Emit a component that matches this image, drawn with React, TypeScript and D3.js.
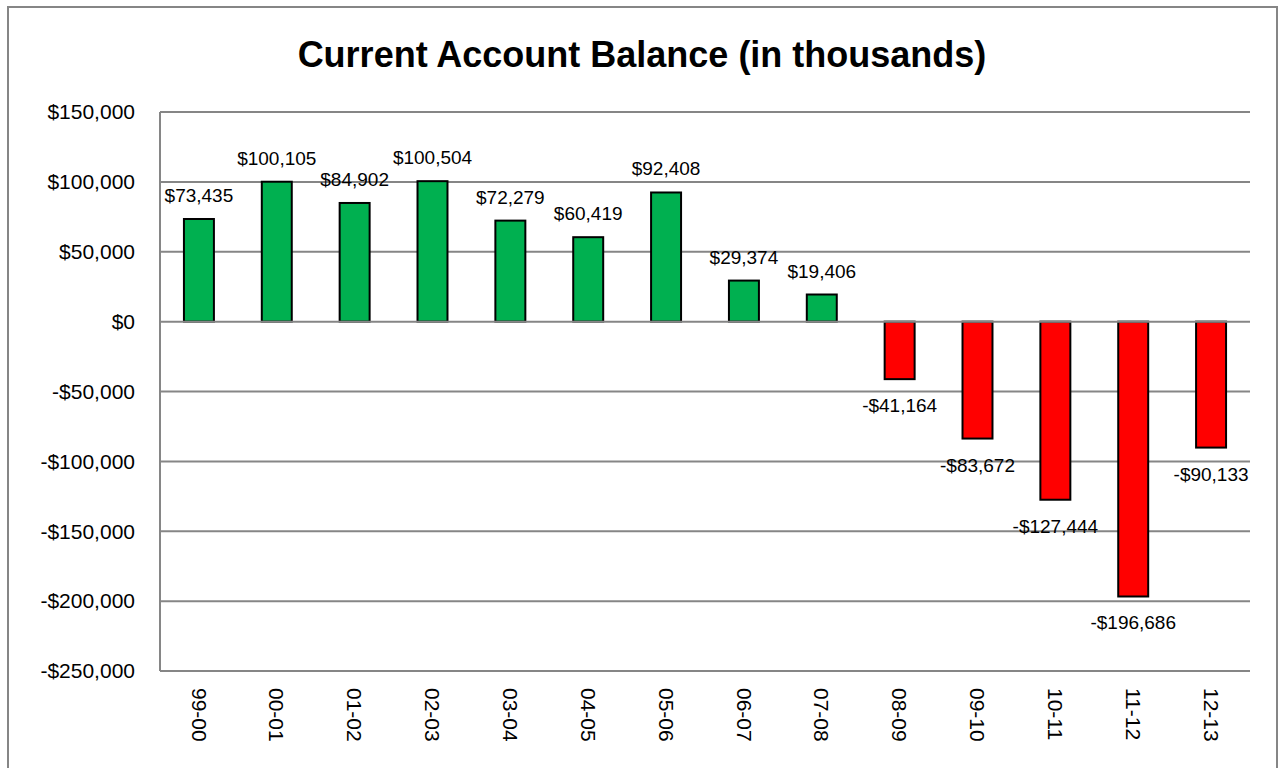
import React, { useEffect, useRef } from 'react'
import * as d3 from 'd3'

// data
const years = ['99-00', '00-01', '01-02', '02-03', '03-04', '04-05', '05-06', '06-07', '07-08', '08-09', '09-10', '10-11', '11-12', '12-13']
const balances = [73435, 100105, 84902, 100504, 72279, 60419, 92408, 29374, 19406, -41164, -83672, -127444, -196686, -90133]
const yTicks = [150000, 100000, 50000, 0, -50000, -100000, -150000, -200000, -250000]

const title = 'Current Account Balance (in thousands)'

const width = 1278
const height = 768
const left = 160
const right = 1250
const top = 112
const bottom = 671
const font = '"Liberation Sans", Arial, sans-serif'

const money = (v: number) => {
    const s = d3.format(',.0f')(Math.abs(v))
    return v < 0 ? '-$' + s : '$' + s
}

const App = () => {
    const svgRef = useRef<SVGSVGElement>(null)

    useEffect(() => {
        const svg = d3.select(svgRef.current)
        svg.selectAll('*').remove()

        const xScale = d3.scaleBand()
            .domain(years)
            .range([left, right])
            .paddingInner(0.615)
            .paddingOuter(0.3075)

        const yScale = d3.scaleLinear()
            .domain([-250000, 150000])
            .range([bottom, top])

        const rows = years.map((y, i) => ({ name: y, value: balances[i] }))

        // chart frame
        svg.append('rect')
            .attr('x', 8).attr('y', 7)
            .attr('width', 1269).attr('height', 770)
            .attr('fill', '#fff')
            .attr('stroke', '#868686')
            .attr('stroke-width', 2)

        // title
        svg.append('text')
            .attr('x', 642).attr('y', 67)
            .attr('text-anchor', 'middle')
            .attr('font-family', font)
            .attr('font-weight', 'bold')
            .attr('font-size', 36)
            .text(title)

        // gridlines
        svg.append('g')
            .selectAll('line')
            .data(yTicks.filter(t => t !== 0))
            .join('line')
            .attr('x1', left).attr('x2', right)
            .attr('y1', d => yScale(d)).attr('y2', d => yScale(d))
            .attr('stroke', '#868686')
            .attr('stroke-width', 2)

        // y axis line
        svg.append('line')
            .attr('x1', left).attr('x2', left)
            .attr('y1', top).attr('y2', bottom)
            .attr('stroke', '#868686')
            .attr('stroke-width', 2)

        // y tick labels
        svg.append('g')
            .selectAll('text')
            .data(yTicks)
            .join('text')
            .attr('x', 135)
            .attr('y', d => yScale(d))
            .attr('dy', '0.35em')
            .attr('text-anchor', 'end')
            .attr('font-family', font)
            .attr('font-size', 21)
            .text(d => money(d))

        // bars
        svg.append('g')
            .selectAll('rect')
            .data(rows)
            .join('rect')
            .attr('x', d => xScale(d.name) as number)
            .attr('width', xScale.bandwidth())
            .attr('y', d => yScale(Math.max(0, d.value)))
            .attr('height', d => Math.abs(yScale(d.value) - yScale(0)))
            .attr('fill', d => d.value >= 0 ? '#00B050' : '#FF0000')
            .attr('stroke', '#000')
            .attr('stroke-width', 2)

        // zero line drawn over the bars
        svg.append('line')
            .attr('x1', left).attr('x2', right)
            .attr('y1', yScale(0)).attr('y2', yScale(0))
            .attr('stroke', '#868686')
            .attr('stroke-width', 2)

        // data labels
        svg.append('g')
            .selectAll('text')
            .data(rows)
            .join('text')
            .attr('x', d => (xScale(d.name) as number) + xScale.bandwidth() / 2)
            .attr('y', d => d.value >= 0 ? yScale(d.value) - 17 : yScale(d.value) + 33)
            .attr('text-anchor', 'middle')
            .attr('font-family', font)
            .attr('font-size', 19)
            .text(d => money(d.value))

        // category labels, rotated
        svg.append('g')
            .selectAll('text')
            .data(years)
            .join('text')
            .attr('transform', d => `translate(${(xScale(d) as number) + xScale.bandwidth() / 2},688) rotate(90)`)
            .attr('dy', '0.35em')
            .attr('font-family', font)
            .attr('font-size', 21)
            .text(d => d)
    }, [])

    return (
        <svg ref={svgRef} width={width} height={height}
            style={{ position: 'absolute', left: 0, top: 0 }} />
    )
}

export default App
